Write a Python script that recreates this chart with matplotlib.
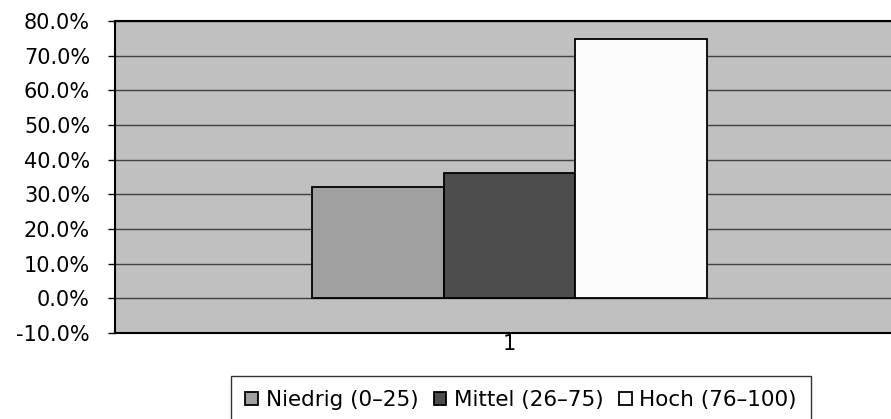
import matplotlib
matplotlib.use("Agg")
import matplotlib.pyplot as plt
from matplotlib.ticker import FuncFormatter

# Daten
kategorien = ["1"]
serien = ["Niedrig (0–25)", "Mittel (26–75)", "Hoch (76–100)"]
werte = [32.0, 36.2, 74.8]
farben = ["#a0a0a0", "#4d4d4d", "#fcfcfc"]
y_ticks = [-10, 0, 10, 20, 30, 40, 50, 60, 70, 80]

plt.rcParams["font.family"] = ["DejaVu Sans"]
plt.rcParams["font.size"] = 15

fig = plt.figure(figsize=(8.91, 4.19), dpi=100)
ax = fig.add_axes([115 / 891, 1 - 333 / 419, 789 / 891, 312 / 419])
ax.set_facecolor("#c0c0c0")

breite = 0.167
for i, (name, w, f) in enumerate(zip(serien, werte, farben)):
    ax.bar(1 + (i - 1) * breite, w, width=breite, color=f, edgecolor="black",
           linewidth=1.3, label=name, zorder=3)

ax.set_xlim(0.5, 1.5)
ax.set_ylim(-10, 80)
ax.set_yticks(y_ticks)
ax.yaxis.set_major_formatter(FuncFormatter(lambda v, p: f"{v:.1f}%"))
ax.set_xticks([1])
ax.set_xticklabels(kategorien)
ax.tick_params(axis="x", length=0, pad=1)
ax.tick_params(axis="y", length=5, width=1, pad=13)
ax.grid(axis="y", color="#404040", linewidth=1, zorder=0)
for s in ax.spines.values():
    s.set_linewidth(1.5)
    s.set_color("black")

leg = fig.legend(loc="upper center", bbox_to_anchor=(521 / 891, 1 - 376 / 419),
                 ncol=3, frameon=True, fancybox=False, edgecolor="black",
                 handlelength=0.6, handleheight=0.6, handletextpad=0.35,
                 columnspacing=0.7, borderpad=0.65, borderaxespad=0,
                 fontsize=15.5)
leg.get_frame().set_linewidth(1)

fig.savefig("out.png", dpi=100)
